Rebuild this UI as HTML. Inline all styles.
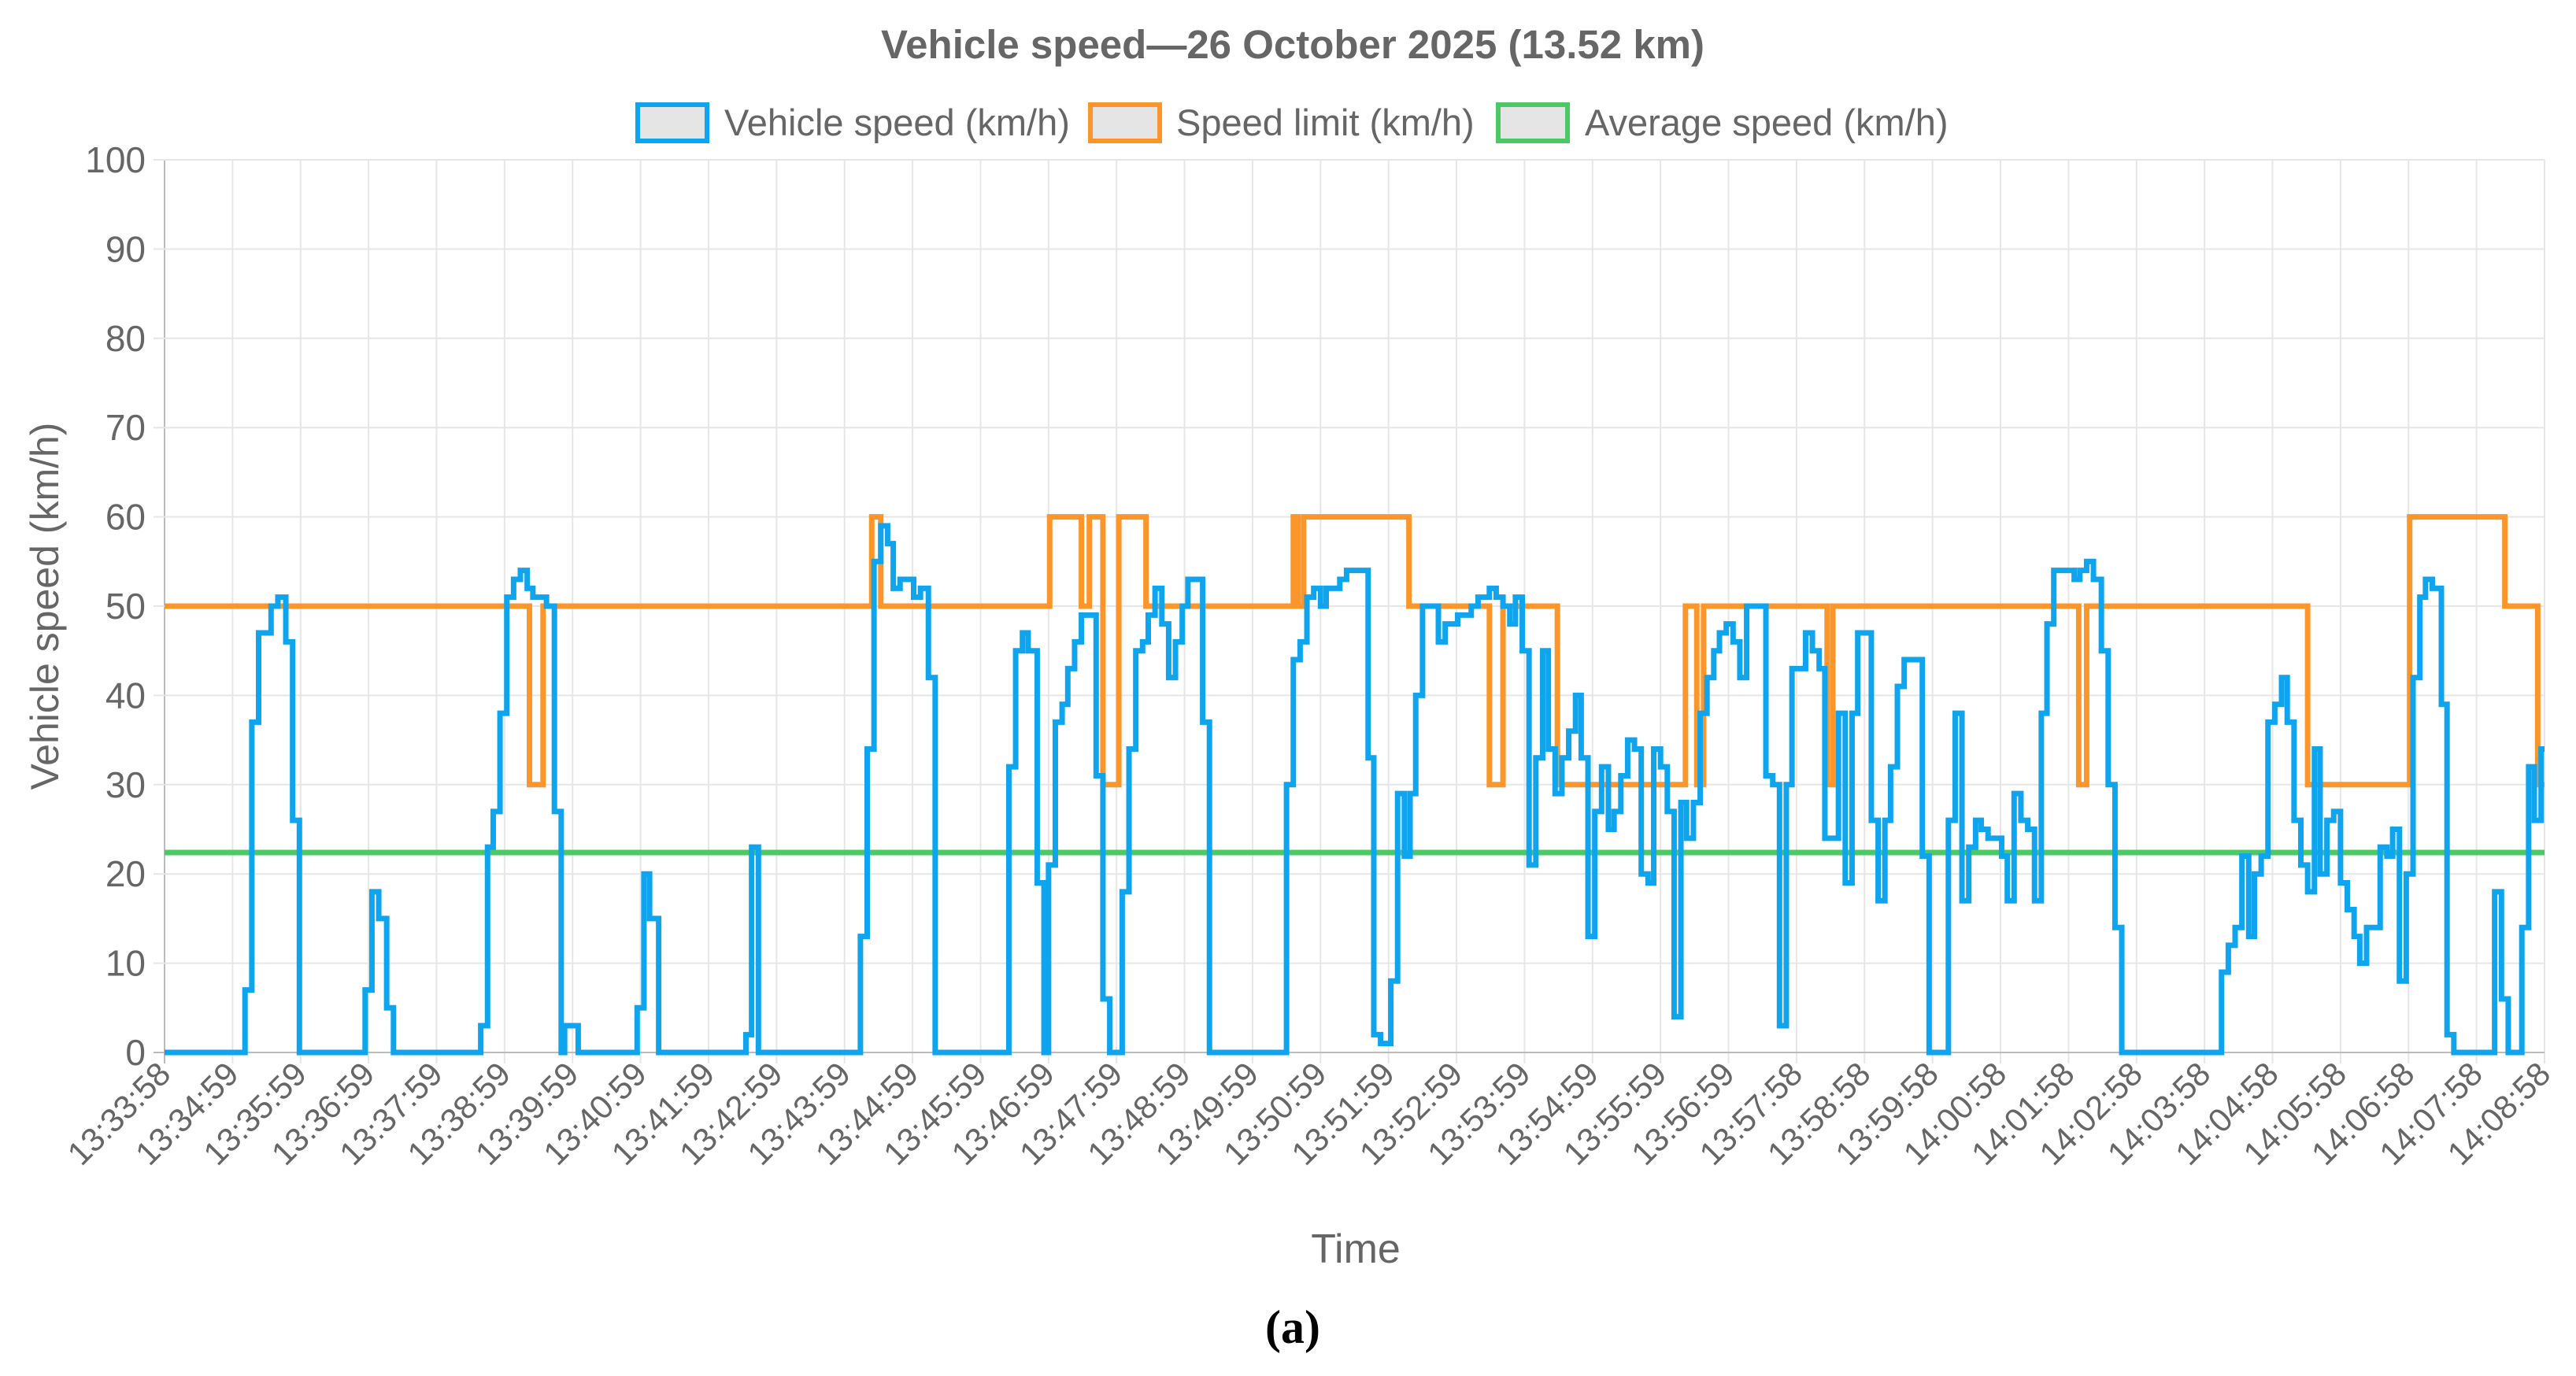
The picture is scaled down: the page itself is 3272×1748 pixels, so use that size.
<!DOCTYPE html>
<html><head><meta charset="utf-8"><style>
html,body{margin:0;padding:0;background:#fff;}
svg{display:block;font-family:"Liberation Sans",Arial,sans-serif;}
</style></head><body>
<svg id="chart" width="3272" height="1748" viewBox="0 0 3272 1748">
<text x="1642" y="74" text-anchor="middle" font-size="51" font-weight="bold" fill="#666">Vehicle speed—26 October 2025 (13.52 km)</text>
<g>
 <g><rect x="810" y="133" width="88" height="46" fill="#e5e5e5" stroke="#0ea5ee" stroke-width="6"/><text x="920" y="172" font-size="47" fill="#666">Vehicle speed (km/h)</text></g>
 <g><rect x="1385" y="133" width="88" height="46" fill="#e5e5e5" stroke="#fd962a" stroke-width="6"/><text x="1494" y="172" font-size="47" fill="#666">Speed limit (km/h)</text></g>
 <g><rect x="1903" y="133" width="88" height="46" fill="#e5e5e5" stroke="#4cc964" stroke-width="6"/><text x="2013" y="172" font-size="47" fill="#666">Average speed (km/h)</text></g>
</g>
<g id="grid"></g>
<g id="series"></g>
<g id="axes"></g>
<text transform="translate(74,770) rotate(-90)" text-anchor="middle" font-size="50" fill="#666">Vehicle speed (km/h)</text>
<text x="1722" y="1604" text-anchor="middle" font-size="52" fill="#666">Time</text>
<text x="1642" y="1706" text-anchor="middle" font-size="60" font-weight="bold" font-family="Liberation Serif,serif" fill="#000">(a)</text>
</svg>
<script>
const xTickLabels = ["13:33:58","13:34:59","13:35:59","13:36:59","13:37:59","13:38:59","13:39:59","13:40:59","13:41:59","13:42:59","13:43:59","13:44:59","13:45:59","13:46:59","13:47:59","13:48:59","13:49:59","13:50:59","13:51:59","13:52:59","13:53:59","13:54:59","13:55:59","13:56:59","13:57:58","13:58:58","13:59:58","14:00:58","14:01:58","14:02:58","14:03:58","14:04:58","14:05:58","14:06:58","14:07:58","14:08:58"];
const yTicks = [0,10,20,30,40,50,60,70,80,90,100];
const speedTimes = [0,71,77,83,94,100,107,113,119,177,183,189,196,202,279,285,290,296,302,308,314,320,325,337,344,350,353,365,417,423,428,436,513,518,524,614,620,626,632,638,643,649,661,667,674,680,745,751,757,762,770,776,780,786,792,797,803,809,822,828,834,845,851,857,863,868,874,880,886,892,898,903,916,922,990,996,1002,1008,1014,1020,1025,1031,1037,1043,1062,1067,1073,1082,1088,1094,1099,1104,1110,1124,1130,1141,1153,1159,1169,1175,1181,1187,1192,1198,1204,1210,1216,1221,1227,1233,1239,1245,1250,1256,1262,1268,1274,1279,1285,1291,1297,1303,1309,1314,1320,1326,1332,1338,1343,1349,1355,1361,1367,1372,1378,1384,1390,1396,1413,1419,1425,1431,1436,1442,1448,1454,1460,1465,1477,1483,1489,1494,1506,1512,1518,1523,1529,1535,1551,1557,1574,1580,1586,1592,1598,1603,1609,1621,1626,1632,1638,1644,1650,1656,1661,1667,1685,1690,1696,1702,1709,1715,1721,1727,1815,1821,1827,1833,1839,1844,1850,1856,1862,1868,1873,1879,1885,1891,1897,1902,1908,1914,1920,1926,1932,1937,1943,1955,1961,1966,1972,1978,1984,1990,1995,2001,2009,2014,2020,2056,2062,2068,2080,2086,2091,2097];
const speedValues = [0,7,37,47,50,51,46,26,0,7,18,15,5,0,3,23,27,38,51,53,54,52,51,50,27,0,3,0,5,20,15,0,2,23,0,13,34,55,59,57,52,53,51,52,42,0,32,45,47,45,19,0,21,37,39,43,46,49,31,6,0,18,34,45,46,49,52,48,42,46,50,53,37,0,30,44,46,51,52,50,52,52,53,54,33,2,1,8,29,22,29,40,50,46,48,49,50,51,52,51,50,48,51,45,21,33,45,34,29,33,36,40,33,13,27,32,25,27,31,35,34,20,19,34,32,27,4,28,24,28,38,42,45,47,48,46,42,50,31,30,3,30,43,43,47,45,43,24,38,19,38,47,26,17,26,32,41,44,22,0,26,38,17,23,26,25,24,22,17,29,26,25,17,38,48,54,53,54,55,53,45,30,14,0,9,12,14,22,13,20,22,37,39,42,37,26,21,18,34,20,26,27,19,16,13,10,14,23,22,25,8,20,42,51,53,52,39,2,0,18,6,0,14,32,26,34];
const limitTimes = [0,322,334,624,632,781,809,816,828,842,866,996,1000,1005,1098,1169,1181,1229,1342,1352,1358,1467,1472,1689,1696,1891,1981,2065,2094];
const limitValues = [50,30,50,60,50,60,50,60,30,60,50,60,50,60,50,30,50,30,50,30,50,30,50,30,50,30,60,50,30];
const averageSpeed = [22.4];
const tMax = 2100;

const NS="http://www.w3.org/2000/svg";
const L=209, R=3232, T=203, B=1337;
const xs=t=>L+(t/tMax)*(R-L);
const ys=v=>B-(v/100)*(B-T);
function mk(tag,attrs,parent){const e=document.createElementNS(NS,tag);for(const k in attrs)e.setAttribute(k,attrs[k]);parent.appendChild(e);return e;}
const grid=document.getElementById('grid'), axes=document.getElementById('axes'), series=document.getElementById('series');
const n=xTickLabels.length;
for(let i=0;i<n;i++){
  const x=L+i*(R-L)/(n-1);
  const g=mk('line',{x1:x,x2:x,y1:T,y2:B+14,stroke:i===0?'#bbb':'#e6e6e6','stroke-width':2},grid);
  
  
  const tx=mk('text',{transform:`translate(${x+10},${B+30}) rotate(-45)`,'text-anchor':'end','font-size':42,fill:'#666'},axes);
  tx.textContent=xTickLabels[i];
  
  
}
yTicks.forEach(v=>{
  const y=ys(v);
  const g=mk('line',{x1:L-14,x2:R,y1:y,y2:y,stroke:v===0?'#bbb':'#e6e6e6','stroke-width':2},grid);
  
  
  const tx=mk('text',{x:L-24,y:y+16,'text-anchor':'end','font-size':46,fill:'#666'},axes);
  tx.textContent=v;
  
  
});
function stepPath(ts,vs){
  let d=`M${xs(ts[0])},${ys(vs[0])}`;
  for(let i=1;i<ts.length;i++){d+=` H${xs(ts[i])} V${ys(vs[i])}`;}
  d+=` H${xs(tMax)}`;return d;
}
const avg=mk('line',{x1:xs(0),x2:xs(tMax),y1:ys(averageSpeed[0]),y2:ys(averageSpeed[0]),stroke:'#4cc964','stroke-width':7},series);


const lim=mk('path',{d:stepPath(limitTimes,limitValues),fill:'none',stroke:'#fd962a','stroke-width':7,'stroke-linejoin':'miter'},series);


const sp=mk('path',{d:stepPath(speedTimes,speedValues),fill:'none',stroke:'#0ea5ee','stroke-width':7,'stroke-linejoin':'miter'},series);


</script>
</body></html>
